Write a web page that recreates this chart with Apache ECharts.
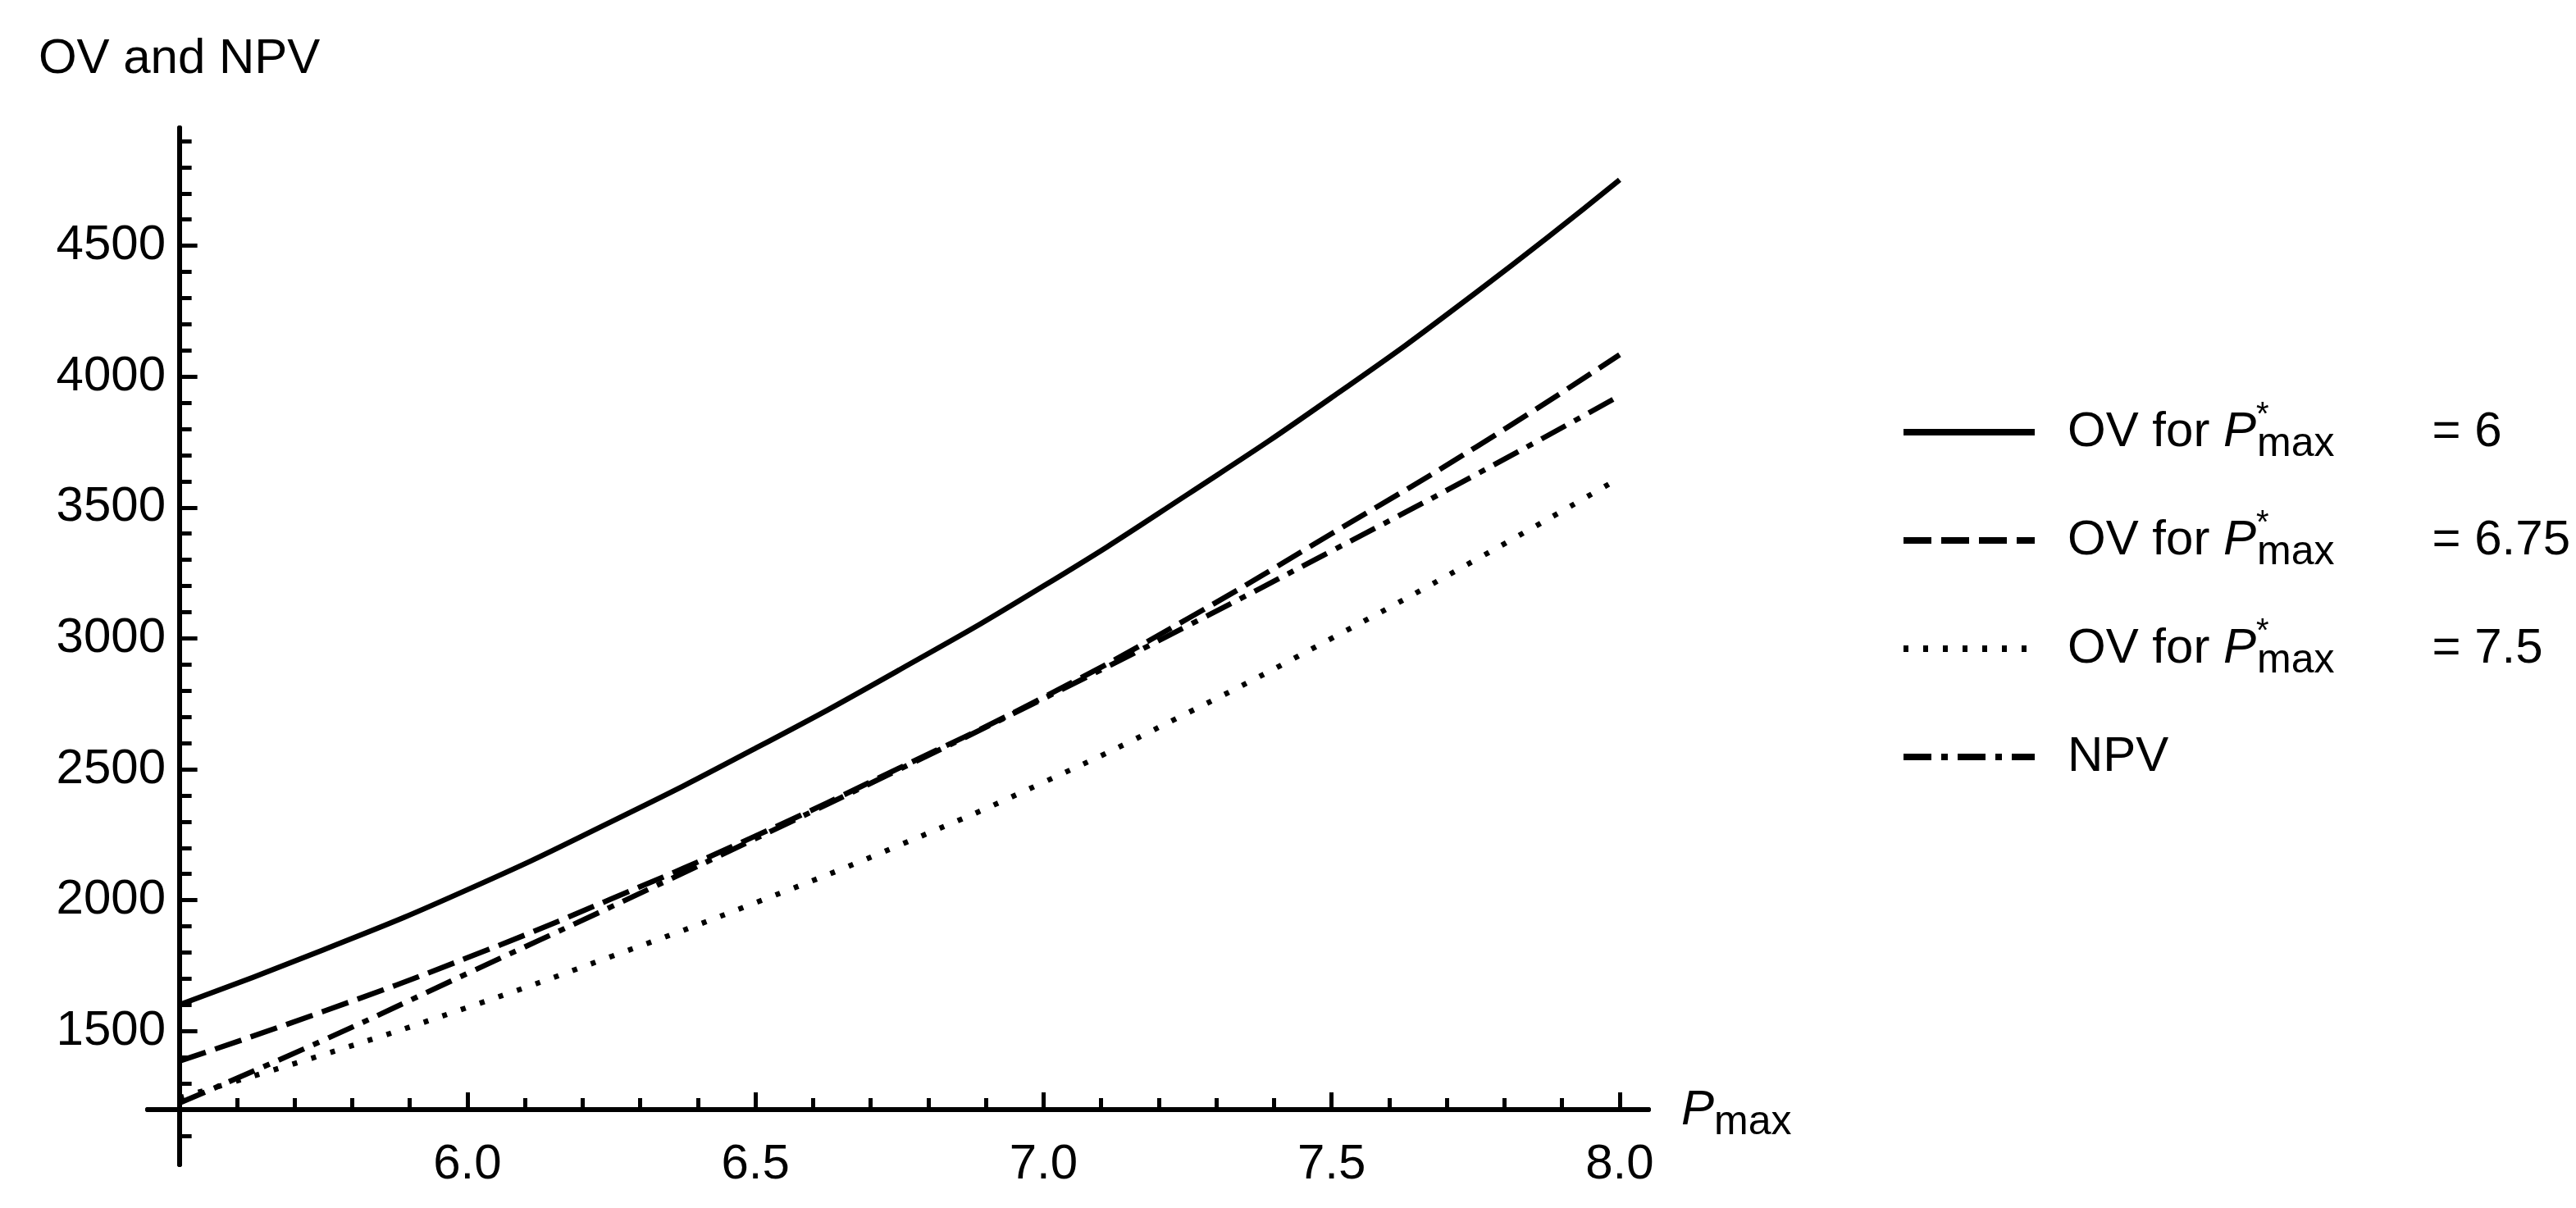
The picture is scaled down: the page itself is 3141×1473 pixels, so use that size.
<!DOCTYPE html>
<html>
<head>
<meta charset="utf-8">
<script src="https://cdn.jsdelivr.net/npm/echarts@6.0.0/dist/echarts.min.js"></script>
<style>
html, body { margin: 0; padding: 0; background: #fff; }
#chart { width: 3141px; height: 1473px; }
</style>
</head>
<body>
<div id="chart"></div>
<script>
// values
var pmax  = [5.5, 5.75, 6.0, 6.25, 6.5, 6.75, 7.0, 7.25, 7.5, 7.75, 8.0];
var ov6   = [1600, 1810, 2040, 2300, 2580, 2880, 3200, 3550, 3920, 4320, 4752];
var ov675 = [1385, 1575, 1780, 2005, 2245, 2505, 2775, 3075, 3400, 3730, 4084];
var ov75  = [1245, 1410, 1590, 1785, 1990, 2210, 2450, 2715, 3000, 3300, 3613];
var npv   = [1225, 1465, 1720, 1975, 2235, 2500, 2770, 3048, 3334, 3625, 3927];

var xLabels = [6.0, 6.5, 7.0, 7.5, 8.0];
var yLabels = [1500, 2000, 2500, 3000, 3500, 4000, 4500];
var names = ['OV for P*max = 6', 'OV for P*max = 6.75', 'OV for P*max = 7.5', 'NPV'];

// the axes cross at (5.5, 1200), so plot relative to that point
var X0 = 5.5, Y0 = 1200;
var FONT = '"Liberation Sans", Arial, sans-serif';

var xMajor = xLabels.map(function (v) { return +(v - X0).toFixed(2); });
var yMajor = yLabels.map(function (v) { return v - Y0; });
var xMinor = [];
for (var k = 1; k <= 25; k++) xMinor.push(+(k * 0.1).toFixed(2));
var yMinor = [];
for (var j = -1; j <= 37; j++) if (j !== 0) yMinor.push(j * 100);

function pts(ys) {
    return pmax.map(function (x, i) { return [x - X0, ys[i] - Y0]; });
}

function xAxisOpt(major) {
    return {
        type: 'value', min: -0.055, max: 2.55, position: 'bottom',
        axisLine: { onZero: true, onZeroAxisIndex: 0, lineStyle: { color: '#000', width: 6 } },
        axisTick: { inside: true, length: major ? 21 : 14, customValues: major ? xMajor : xMinor,
                    lineStyle: { color: '#000', width: 5 } },
        axisLabel: { show: major, customValues: xMajor, margin: -30, color: '#000', fontSize: 60, fontFamily: FONT,
                     formatter: function (v) { return (v + X0).toFixed(1); } },
        splitLine: { show: false },
        name: major ? '{P|P}{sub|max}' : '',
        nameLocation: 'end', nameGap: 40,
        nameTextStyle: {
            color: '#000', fontSize: 60, fontFamily: FONT, lineHeight: 80, padding: [2, 0, 0, 0],
            rich: {
                P: { fontStyle: 'italic', fontSize: 60, fontFamily: FONT, lineHeight: 80 },
                sub: { fontSize: 50, fontFamily: FONT, lineHeight: 39, verticalAlign: 'bottom' }
            }
        }
    };
}

function yAxisOpt(major) {
    return {
        type: 'value', min: -210, max: 3750, position: 'left',
        axisLine: { onZero: true, onZeroAxisIndex: 0, lineStyle: { color: '#000', width: 6 } },
        axisTick: { inside: true, length: major ? 22 : 15, customValues: major ? yMajor : yMinor,
                    lineStyle: { color: '#000', width: 5 } },
        axisLabel: { show: major, customValues: yMajor, margin: -22, color: '#000', fontSize: 60, fontFamily: FONT,
                     formatter: function (v) { return String(v + Y0); } },
        splitLine: { show: false },
        name: major ? 'OV and NPV' : '',
        nameLocation: 'end', nameGap: 84,
        nameTextStyle: { color: '#000', fontSize: 60, fontFamily: FONT, align: 'center', verticalAlign: 'middle' }
    };
}

function line(name, ys, dash) {
    return {
        name: name, type: 'line', data: pts(ys), smooth: true,
        symbol: 'none', xAxisIndex: 0, yAxisIndex: 0,
        itemStyle: { color: '#000' },
        lineStyle: { color: '#000', width: 6.5, type: dash }
    };
}

var myChart = echarts.init(document.getElementById('chart'));
option = {
    animation: false,
    backgroundColor: '#fff',
    grid: { left: 180, right: 1131, top: 156, bottom: 53, outerBoundsMode: 'none' },
    xAxis: [xAxisOpt(false), xAxisOpt(true)],
    yAxis: [yAxisOpt(false), yAxisOpt(true)],
    legend: {
        orient: 'vertical', left: 2312, top: 482,
        itemWidth: 160, itemHeight: 20, itemGap: 52,
        itemStyle: { opacity: 0 },
        lineStyle: { width: 8 },
        data: names,
        formatter: function (name) {
            if (name === 'NPV') return 'NPV';
            return 'OV for {P|P}{star|*}{sub|max}{gap|}= ' + name.split('= ')[1];
        },
        textStyle: {
            color: '#000', fontSize: 60, fontFamily: FONT, lineHeight: 80, padding: [0, 0, 0, 35],
            rich: {
                P: { fontStyle: 'italic', fontSize: 60, fontFamily: FONT, lineHeight: 80 },
                star: { fontSize: 40, fontFamily: FONT, lineHeight: 42, verticalAlign: 'top', width: 1 },
                sub: { fontSize: 50, fontFamily: FONT, lineHeight: 39, verticalAlign: 'bottom' },
                gap: { width: 119, lineHeight: 80 }
            }
        }
    },
    series: [
        line(names[0], ov6, 'solid'),
        line(names[1], ov675, [34, 12]),
        line(names[2], ov75, [6, 18]),
        line(names[3], npv, [34, 12, 8, 12])
    ]
};
myChart.setOption(option);
</script>
</body>
</html>
